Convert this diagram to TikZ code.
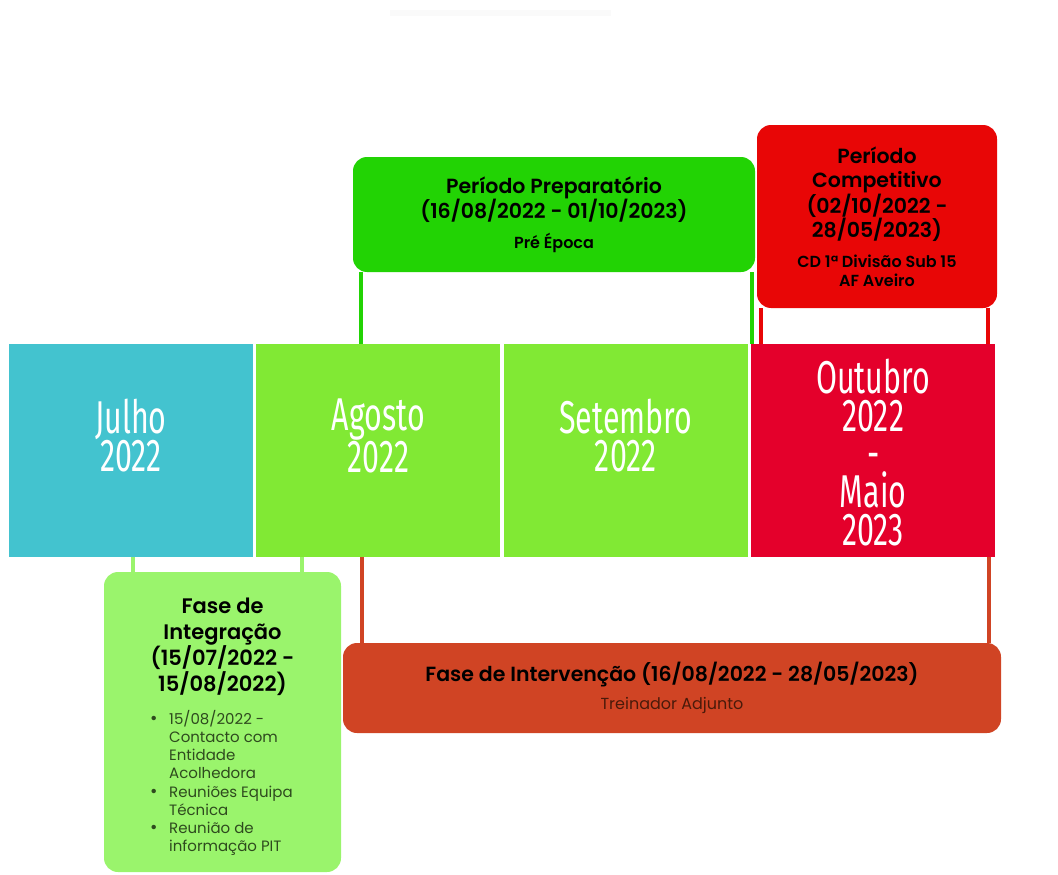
\documentclass[tikz,border=0pt]{standalone}
\usepackage{fontspec}
\setmainfont{Poppins}[BoldFont={Poppins SemiBold}]
\newfontfamily\monthfont[FakeStretch=0.66]{Fira Sans}
\usetikzlibrary{positioning,calc}

\definecolor{julhocol}{HTML}{43C3CF}
\definecolor{agostocol}{HTML}{81E934}
\definecolor{outubrocol}{HTML}{E4002B}
\definecolor{prepcol}{HTML}{22D304}
\definecolor{compcol}{HTML}{E80606}
\definecolor{integcol}{HTML}{9AF46C}
\definecolor{intervcol}{HTML}{D04424}
\definecolor{listcol}{HTML}{2E4A1E}
\definecolor{adjcol}{HTML}{4A1A0A}

\begin{document}
\begin{tikzpicture}[x=1pt,y=-1pt,
  monthbox/.style={fill=#1,minimum width=244pt,minimum height=213pt,inner sep=0pt},
  monthtxt/.style={text=white,align=center,inner sep=0pt,font=\monthfont\fontsize{46}{38}\selectfont},
  phasebox/.style={fill=#1,rounded corners=14pt,inner sep=0pt,align=center},
  lnk/.style={draw=#1,line width=4pt}]

\useasboundingbox (0,0) rectangle (1058,875);
\fill[black!2] (390,10) rectangle (611,16);

% months
\node[monthbox=julhocol] (julho) at (131,450.5) {};
\node[monthbox=agostocol,right=3pt of julho] (agosto) {};
\node[monthbox=agostocol,right=3pt of agosto] (setembro) {};
\node[monthbox=outubrocol,right=3pt of setembro] (outubro) {};

\node[monthtxt] (julhotxt) at ([yshift=15pt]julho.center) {Julho\\2022};
\node[monthtxt] (agostotxt) at ([yshift=15pt]agosto.center) {Agosto\\2022};
\node[monthtxt] (setembrotxt) at ([yshift=15pt]setembro.center) {Setembro\\2022};
\node[monthtxt] (outubrotxt) at ([yshift=-2pt]outubro.center) {Outubro\\2022\\-\\Maio\\2023};

% phases
\node[phasebox=prepcol,minimum width=402pt,minimum height=115pt,
  font=\bfseries\fontsize{20.5}{25}\selectfont] (prep) at (554,214.5)
  {Período Preparatório\\(16/08/2022 - 01/10/2023)\\[5pt]{\fontsize{16}{18}\selectfont Pré Época}};

\node[phasebox=compcol,minimum width=240pt,minimum height=183pt,
  font=\bfseries\fontsize{20.5}{24}\selectfont] (comp) at (877,216.5)
  {Período\\Competitivo\\(02/10/2022 -\\28/05/2023)\\[6pt]{\fontsize{16}{19}\selectfont CD 1ª Divisão Sub 15}\\[-5pt]{\fontsize{16}{19}\selectfont AF Aveiro}};

\node[phasebox=integcol,minimum width=237pt,minimum height=300pt] (integ) at (222.5,722) {};
\node[anchor=north,align=center,inner sep=0pt,
  font=\bfseries\fontsize{21}{25.5}\selectfont] (integtitle) at ([yshift=-26pt]integ.north)
  {Fase de\\Integração\\(15/07/2022 -\\15/08/2022)};
\node[anchor=north west,inner sep=0pt,text=listcol,font=\fontsize{15}{18.2}\selectfont] (integlist) at (150,710)
  {\begin{tabular}{@{}l@{}l@{}}
  \makebox[19pt][l]{\fontsize{18}{18}\selectfont•}&15/08/2022 -\\
  &Contacto com\\
  &Entidade\\
  &Acolhedora\\
  \makebox[19pt][l]{\fontsize{18}{18}\selectfont•}&Reuniões Equipa\\
  &Técnica\\
  \makebox[19pt][l]{\fontsize{18}{18}\selectfont•}&Reunião de\\
  &informação PIT
  \end{tabular}};

\node[phasebox=intervcol,minimum width=658pt,minimum height=90pt] (interv) at (672,688)
  {{\bfseries\fontsize{20.5}{25}\selectfont Fase de Intervenção (16/08/2022 - 28/05/2023)}\\[9pt]{\fontsize{16}{18}\selectfont\color{adjcol}Treinador Adjunto}};

% connectors
\coordinate (prepL) at ([xshift=8pt]prep.south west);
\coordinate (prepR) at ([xshift=-3pt]prep.south east);
\coordinate (compL) at ([xshift=4pt]comp.south west);
\coordinate (compR) at ([xshift=-9pt]comp.south east);
\coordinate (integL) at ([xshift=29pt]integ.north west);
\coordinate (integR) at ([xshift=-39pt]integ.north east);
\coordinate (intervL) at ([xshift=19pt]interv.north west);
\coordinate (intervR) at ([xshift=-12pt]interv.north east);

\draw[lnk=prepcol] (prepL) -- (prepL |- agosto.north);
\draw[lnk=prepcol] (prepR) -- (prepR |- setembro.north);
\draw[lnk=compcol] (compL) -- (compL |- outubro.north);
\draw[lnk=compcol] (compR) -- (compR |- outubro.north);
\draw[lnk=integcol] (integL) -- (integL |- julho.south);
\draw[lnk=integcol] (integR) -- (integR |- agosto.south);
\draw[lnk=intervcol] (intervL) -- (intervL |- agosto.south);
\draw[lnk=intervcol] (intervR) -- (intervR |- outubro.south);
\end{tikzpicture}
\end{document}
